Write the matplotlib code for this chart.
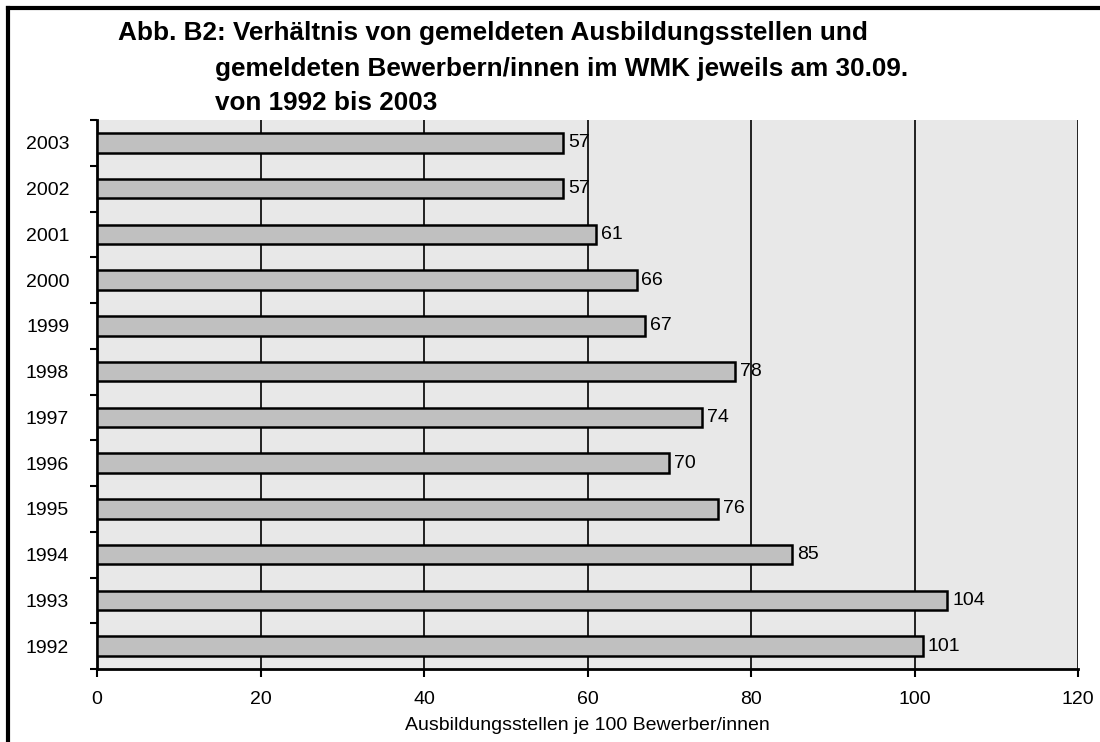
import matplotlib.pyplot as plt
from matplotlib.lines import Line2D

plt.rcParams['font.family'] = ['Liberation Sans', 'DejaVu Sans']

years = ['2003', '2002', '2001', '2000', '1999', '1998',
         '1997', '1996', '1995', '1994', '1993', '1992']
values = [57, 57, 61, 66, 67, 78, 74, 70, 76, 85, 104, 101]
xticks = [0, 20, 40, 60, 80, 100, 120]

fig = plt.figure(figsize=(11, 7.42), dpi=100)
ax = fig.add_axes([97 / 1100, 1 - 669 / 742, (1078 - 97) / 1100, (669 - 120) / 742])
ax.set_facecolor('#e8e8e8')

pos = list(range(len(years)))
ax.barh(pos, values, height=0.43, color='#c0c0c0', edgecolor='black',
        linewidth=1.8, zorder=3)
for p, v in zip(pos, values):
    ax.text(v + 0.6, p, str(v), va='center', ha='left', fontsize=14, zorder=4)

ax.set_ylim(len(years) - 0.5, -0.5)
ax.set_xlim(0, 120)
ax.set_xticks(xticks)
ax.tick_params(axis='x', length=6, width=1.5, labelsize=14, pad=10)

# category labels between tick marks at slot boundaries
ax.set_yticks([p + 0.5 for p in range(-1, len(years))])
ax.set_yticklabels([])
ax.tick_params(axis='y', length=5, width=1.5)
ax.set_yticks(pos, minor=True)
ax.set_yticklabels(years, minor=True, fontsize=14)
ax.tick_params(axis='y', which='minor', length=0, pad=20)

ax.xaxis.grid(True, color='black', linewidth=1.2, zorder=1)
ax.set_axisbelow(True)
ax.spines['top'].set_visible(False)
ax.spines['right'].set_visible(False)
ax.spines['left'].set_linewidth(2)
ax.spines['bottom'].set_linewidth(2)

ax.set_xlabel('Ausbildungsstellen je 100 Bewerber/innen', fontsize=14, labelpad=6)

# title
title_lines = ['Abb. B2: Verhältnis von gemeldeten Ausbildungsstellen und',
               'gemeldeten Bewerbern/innen im WMK jeweils am 30.09.',
               'von 1992 bis 2003']
title_x = [118, 215, 215]
title_y = [33, 69, 103]
for line, tx, ty in zip(title_lines, title_x, title_y):
    fig.text(tx / 1100, 1 - ty / 742, line, fontsize=18.8,
             fontweight='bold', va='center')

# outer frame (top and left)
fig.add_artist(Line2D([8 / 1100, 8 / 1100], [0, 1 - 8 / 742], color='black',
                      linewidth=3, transform=fig.transFigure))
fig.add_artist(Line2D([8 / 1100, 1], [1 - 8 / 742, 1 - 8 / 742], color='black',
                      linewidth=3, transform=fig.transFigure))

fig.savefig('out.png', dpi=100)
